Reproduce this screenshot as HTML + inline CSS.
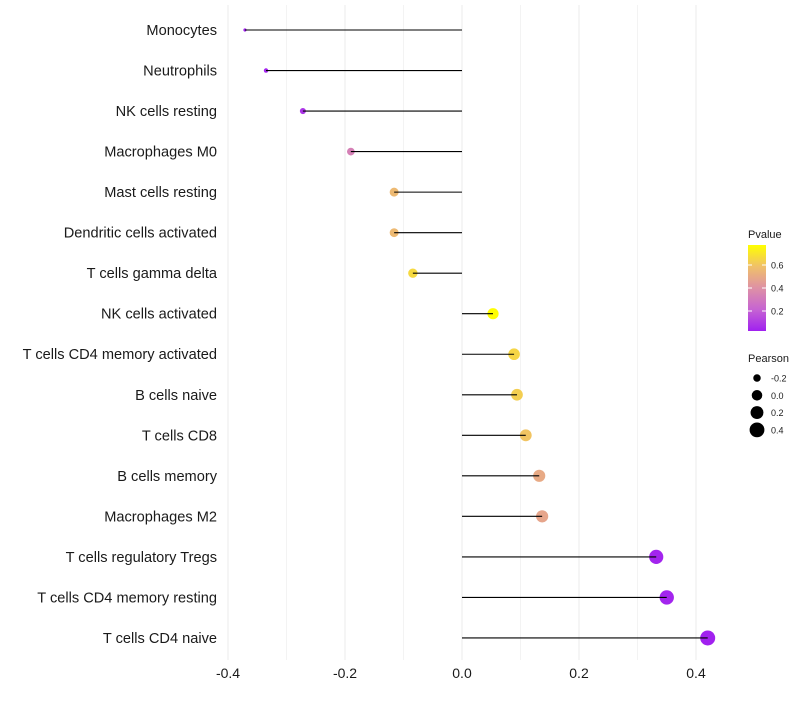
<!DOCTYPE html>
<html><head><meta charset="utf-8"><style>
body{margin:0;background:#fff;font-family:"Liberation Sans",sans-serif}
</style></head><body>
<svg id="c" width="800" height="700" font-family="Liberation Sans, sans-serif"></svg>
<script>
const categories=["Monocytes","Neutrophils","NK cells resting","Macrophages M0","Mast cells resting","Dendritic cells activated","T cells gamma delta","NK cells activated","T cells CD4 memory activated","B cells naive","T cells CD8","B cells memory","Macrophages M2","T cells regulatory  Tregs","T cells CD4 memory resting","T cells CD4 naive"];
const pearson=[-0.371,-0.335,-0.272,-0.19,-0.116,-0.116,-0.084,0.053,0.089,0.094,0.109,0.132,0.137,0.332,0.35,0.42];
const pvalue=[0.03,0.04,0.08,0.33,0.56,0.56,0.66,0.77,0.65,0.63,0.6,0.5,0.48,0.04,0.04,0.03];
const xTicks=[-0.4,-0.2,0,0.2,0.4];
const cbTicks=[0.2,0.4,0.6];
const sizeTicks=[-0.2,0.0,0.2,0.4];
const NS="http://www.w3.org/2000/svg",svg=document.getElementById('c');
function el(t,a,p){const e=document.createElementNS(NS,t);for(const k in a)e.setAttribute(k,a[k]);(p||svg).appendChild(e);return e;}
const x=v=>462+v*585, y=i=>30+i*40.53;
const pMin=0.026,pMax=0.774;
function col(p){let t=Math.max(0,Math.min(1,(p-pMin)/(pMax-pMin)));const s=[[160,32,240],[198,100,210],[222,145,165],[240,192,105],[255,255,0]];let k=Math.min(3,Math.floor(t*4)),u=t*4-k,a=s[k],b=s[k+1];return`rgb(${a.map((c,i)=>Math.round(c+(b[i]-c)*u)).join(',')})`;}
const rad=v=>Math.sqrt(Math.max(2.5,2.5+68*(v+0.371)));
for(let v=-0.4;v<=0.401;v+=0.1){const g=el('line',{x1:x(v),x2:x(v),y1:5,y2:660,stroke:'#ebebeb','stroke-width':Math.abs(Math.round(v*10))%2==0?1:0.6});}
xTicks.forEach(v=>{const t=el('text',{x:x(v),y:678,'text-anchor':'middle','font-size':14,fill:'#1a1a1a'});t.textContent=v===0?'0.0':v.toFixed(1);});
categories.forEach((c,i)=>{
const t=el('text',{x:217,y:y(i)+5,'text-anchor':'end','font-size':14.6,fill:'#1a1a1a'});t.textContent=c;
const d=el('circle',{cx:x(pearson[i]),cy:y(i),r:rad(pearson[i]),fill:col(pvalue[i])});
const l=el('line',{x1:x(0),x2:x(pearson[i]),y1:y(i),y2:y(i),stroke:'#000','stroke-width':1.1});
});
const lt=el('text',{x:748,y:238,'font-size':11,fill:'#1a1a1a'});lt.textContent='Pvalue';
const defs=el('defs',{});const gr=el('linearGradient',{id:'g',x1:0,y1:1,x2:0,y2:0},defs);
for(let k=0;k<=20;k++){el('stop',{offset:k/20,'stop-color':col(pMin+(pMax-pMin)*k/20)},gr);}
const cb=el('rect',{x:748,y:245,width:18,height:86,fill:'url(#g)'});
cbTicks.forEach(v=>{const yy=331-(v-pMin)/(pMax-pMin)*86;el('line',{x1:748,x2:752,y1:yy,y2:yy,stroke:'#fff'});el('line',{x1:762,x2:766,y1:yy,y2:yy,stroke:'#fff'});const t=el('text',{x:771,y:yy+3.5,'font-size':9,fill:'#1a1a1a'});t.textContent=v.toFixed(1);});
const st=el('text',{x:748,y:362,'font-size':11,fill:'#1a1a1a'});st.textContent='Pearson';
sizeTicks.forEach((v,k)=>{const yy=378+k*17.3;const c=el('circle',{cx:757,cy:yy,r:rad(v),fill:'#000'});const t=el('text',{x:771,y:yy+3.5,'font-size':9,fill:'#1a1a1a'});t.textContent=v.toFixed(1);});
</script>
</body></html>
